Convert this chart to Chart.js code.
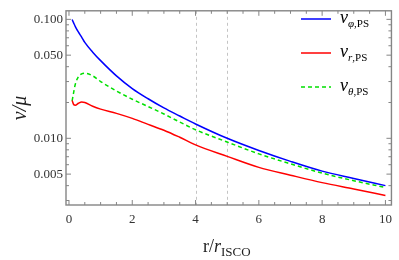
<!DOCTYPE html>
<html><head><meta charset="utf-8">
<script src="https://cdn.jsdelivr.net/npm/chart.js@4"></script>
<style>html,body{margin:0;padding:0;background:#fff}canvas{display:block}</style>
</head><body>
<canvas id="c" width="399" height="260"></canvas>
<script>
const rValues = [0.1,0.15,0.2,0.3,0.4,0.5,0.75,1,1.5,2,2.5,3,3.5,4,5,6,7,8,9,10];
const nuPhi   = [0.0996,0.093,0.087,0.078,0.071,0.064,0.053,0.045,0.0335,0.0262,0.0215,0.0180,0.0154,0.0132,0.0100,0.0079,0.0064,0.0053,0.0046,0.0040];
const nuR     = [0.0208,0.0192,0.0190,0.0197,0.0202,0.0200,0.0186,0.0176,0.0162,0.0147,0.0131,0.0117,0.0102,0.0088,0.00705,0.0057,0.0049,0.00424,0.00375,0.00331];
const nuTheta = [0.0206,0.0245,0.0285,0.0330,0.0348,0.0352,0.0335,0.0300,0.0250,0.0213,0.0185,0.0160,0.0137,0.0118,0.0093,0.0074,0.0061,0.0051,0.0044,0.00386];
const xTickLabels = [0,2,4,6,8,10];
const yTickLabels = [0.005,0.01,0.05,0.1];
const yMinorTicks = [0.003,0.004,0.006,0.007,0.008,0.009,0.02,0.03,0.04,0.06,0.07,0.08,0.09];
const dashedX = [4,5];
const legendNames = [['ν','φ,PS'],['ν','r,PS'],['ν','θ,PS']];

const serif = '"Liberation Serif","DejaVu Serif",serif';
const mk = (arr) => rValues.map((x,i)=>({x:x,y:arr[i]}));

const decor = {
  id:'decor',
  beforeDatasetsDraw(chart){
    const {ctx, chartArea:a, scales:{x}} = chart;
    ctx.save();
    ctx.strokeStyle='#c4c4c4'; ctx.lineWidth=1; ctx.setLineDash([3,3]);
    dashedX.forEach(v=>{const px=Math.round(x.getPixelForValue(v))+0.5;ctx.beginPath();ctx.moveTo(px,a.top);ctx.lineTo(px,a.bottom);ctx.stroke();});
    ctx.restore();
  },
  afterDatasetsDraw(chart){
    const {ctx, chartArea:a, scales:{x,y}} = chart;
    ctx.save();
    ctx.strokeStyle='#858585'; ctx.lineWidth=1.4;
    ctx.strokeRect(a.left,a.top,a.right-a.left,a.bottom-a.top);
    ctx.lineWidth=1;
    for(let v=0; v<=10.001; v+=0.5){
      const px=x.getPixelForValue(v); const major=Math.abs(v/2-Math.round(v/2))<1e-6; const L=major?5:3;
      ctx.beginPath();ctx.moveTo(px,a.bottom);ctx.lineTo(px,a.bottom-L);ctx.moveTo(px,a.top);ctx.lineTo(px,a.top+L);ctx.stroke();
    }
    const yt=(v,L)=>{const py=y.getPixelForValue(v);ctx.beginPath();ctx.moveTo(a.left,py);ctx.lineTo(a.left+L,py);ctx.moveTo(a.right,py);ctx.lineTo(a.right-L,py);ctx.stroke();};
    yTickLabels.forEach(v=>yt(v,5)); yMinorTicks.forEach(v=>yt(v,3));
    const cols=['#0000ff','#ff0000','#00e000'];
    const ys=[19,53,87];
    legendNames.forEach((n,i)=>{
      ctx.strokeStyle=cols[i]; ctx.lineWidth=1.5; ctx.setLineDash(i===2?[4,3]:[]);
      ctx.beginPath();ctx.moveTo(301,ys[i]);ctx.lineTo(331,ys[i]);ctx.stroke();
      ctx.setLineDash([]);
      ctx.fillStyle='#000'; ctx.textBaseline='alphabetic'; ctx.textAlign='left';
      ctx.font='italic 18px '+serif; ctx.fillText(n[0],340,ys[i]+4);
      const w=ctx.measureText(n[0]).width;
      const parts=n[1].split(',');
      ctx.font='italic 11px '+serif; ctx.fillText(parts[0],340+w,ys[i]+8);
      const w2=ctx.measureText(parts[0]).width;
      ctx.font='11px '+serif; ctx.fillText(','+parts[1],340+w+w2,ys[i]+8);
    });
    ctx.fillStyle='#222';
    ctx.font='18px '+serif; let xx=203; const by=252;
    ctx.fillText('r/',xx,by); xx+=ctx.measureText('r/').width;
    ctx.font='italic 18px '+serif; ctx.fillText('r',xx,by); xx+=ctx.measureText('r').width;
    ctx.font='13px '+serif; ctx.fillText('ISCO',xx,by+4);
    ctx.translate(26,108); ctx.rotate(-Math.PI/2);
    ctx.font='italic 20px '+serif; ctx.textAlign='center'; ctx.fillText('ν/μ',0,0);
    ctx.restore();
  }
};

new Chart(document.getElementById('c'),{
  type:'line',
  data:{datasets:[
    {label:'nu_phi',data:mk(nuPhi),borderColor:'#0000ff',borderWidth:1.5,pointRadius:0,cubicInterpolationMode:'monotone',fill:false},
    {label:'nu_r',data:mk(nuR),borderColor:'#ff0000',borderWidth:1.5,pointRadius:0,cubicInterpolationMode:'monotone',fill:false},
    {label:'nu_theta',data:mk(nuTheta),borderColor:'#00e000',borderWidth:1.5,borderDash:[4,3],pointRadius:0,cubicInterpolationMode:'monotone',fill:false}
  ]},
  options:{
    responsive:false, animation:false, devicePixelRatio:1,
    layout:{padding:{top:3,right:4,left:0,bottom:0}},
    plugins:{legend:{display:false},title:{display:false},tooltip:{enabled:false}},
    scales:{
      x:{type:'linear',min:-0.094,max:10.19,
        afterBuildTicks:s=>{s.ticks=xTickLabels.map(v=>({value:v}));},
        ticks:{font:{family:serif,size:13},color:'#333',padding:7,maxRotation:0},
        grid:{display:false,drawTicks:false},border:{display:false},
        afterFit:s=>{s.height=55;}},
      y:{type:'logarithmic',min:0.00275,max:0.118,
        afterBuildTicks:s=>{s.ticks=yTickLabels.map(v=>({value:v}));},
        ticks:{font:{family:serif,size:13},color:'#333',padding:3,callback:v=>Number(v).toFixed(3)},
        grid:{display:false,drawTicks:false},border:{display:false},
        afterFit:s=>{s.width=66;}}
    }
  },
  plugins:[decor]
});
</script>
</body></html>
